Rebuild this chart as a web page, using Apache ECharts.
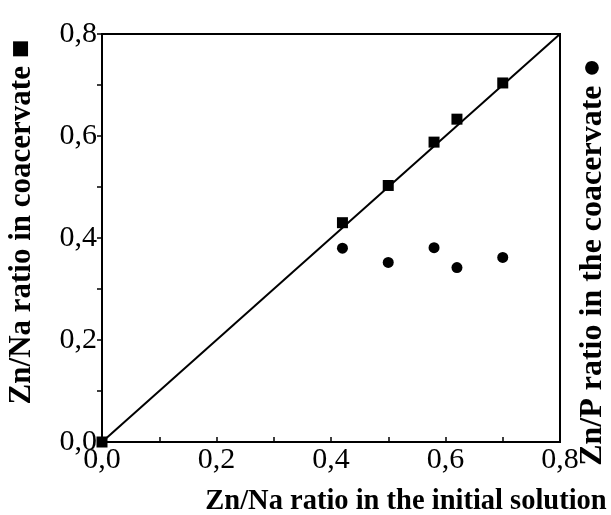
<!DOCTYPE html>
<html>
<head>
<meta charset="utf-8">
<script src="https://cdn.jsdelivr.net/npm/echarts@6/dist/echarts.min.js"></script>
<style>
  html, body { margin: 0; padding: 0; background: #fff; }
  #chart { width: 611px; height: 515px; }
</style>
</head>
<body>
<div id="chart"></div>
<script>
// Zn/Na ratio in the initial solution (x) for each experiment
const initialZnNa = [0.0, 0.42, 0.50, 0.58, 0.62, 0.70];
// Zn/Na ratio measured in the coacervate (squares, left axis)
const coacervateZnNa = [0.0, 0.43, 0.503, 0.588, 0.633, 0.704];
// Zn/P ratio measured in the coacervate (circles, right axis)
const circleX = [0.42, 0.50, 0.58, 0.62, 0.70];
const coacervateZnP = [0.38, 0.352, 0.381, 0.342, 0.362];
// y = x reference line end points
const diagonal = [0.0, 0.8];
const tickValues = [0.0, 0.2, 0.4, 0.6, 0.8];

const serif = '"Liberation Serif", "Times New Roman", serif';
const fmt = v => v.toFixed(1).replace('.', ',');

const chart = echarts.init(document.getElementById('chart'), null, { renderer: 'canvas' });

const axisCommon = {
  type: 'value',
  min: tickValues[0],
  max: tickValues[tickValues.length - 1],
  interval: 0.2,
  splitLine: { show: false },
  axisLine: { show: true, onZero: false, lineStyle: { color: '#000', width: 2 } },
  minorTick: { show: true, splitNumber: 2, length: 5, lineStyle: { color: '#000', width: 1.5 } },
  axisTick: { show: true, length: 5, lineStyle: { color: '#000', width: 1.5 } },
  axisLabel: {
    color: '#000', fontFamily: serif, fontSize: 30,
    formatter: fmt
  }
};

chart.setOption({
  backgroundColor: '#fff',
  animation: false,
  grid: {
    left: 102, right: 51, top: 34, bottom: 73,
    show: true, borderColor: '#000', borderWidth: 2
  },
  xAxis: Object.assign({}, axisCommon, {
    axisTick: Object.assign({}, axisCommon.axisTick, { inside: true }),
    minorTick: Object.assign({}, axisCommon.minorTick, { inside: true }),
    axisLabel: Object.assign({}, axisCommon.axisLabel, { margin: 3 })
  }),
  yAxis: [
    Object.assign({}, axisCommon, {
      axisLabel: Object.assign({}, axisCommon.axisLabel, { margin: 5 })
    }),
    Object.assign({}, axisCommon, {
      position: 'right',
      axisTick: { show: false },
      minorTick: { show: false },
      axisLabel: { show: false }
    })
  ],
  graphic: [
    {
      type: 'text', x: 22, y: 222, rotation: Math.PI / 2,
      style: {
        text: 'Zn/Na ratio in coacervate \u25A0',
        font: 'bold 31px ' + serif, fill: '#000',
        align: 'center', verticalAlign: 'middle'
      }
    },
    {
      type: 'text', x: 593, y: 262, rotation: Math.PI / 2,
      style: {
        text: 'Zn/P ratio in the coacervate \u25CF',
        font: 'bold 32px ' + serif, fill: '#000',
        align: 'center', verticalAlign: 'middle'
      }
    },
    {
      type: 'text', x: 406, y: 502,
      style: {
        text: 'Zn/Na ratio in the initial solution',
        font: 'bold 28.5px ' + serif, fill: '#000',
        align: 'center', verticalAlign: 'middle'
      }
    }
  ],
  series: [
    {
      type: 'line',
      data: diagonal.map(v => [v, v]),
      symbol: 'none',
      lineStyle: { color: '#000', width: 2 },
      z: 2
    },
    {
      type: 'scatter',
      data: initialZnNa.map((x, i) => [x, coacervateZnNa[i]]),
      symbol: 'rect',
      symbolSize: 11,
      itemStyle: { color: '#000', opacity: 1 },
      z: 3
    },
    {
      type: 'scatter',
      yAxisIndex: 1,
      data: circleX.map((x, i) => [x, coacervateZnP[i]]),
      symbol: 'circle',
      symbolSize: 11,
      itemStyle: { color: '#000', opacity: 1 },
      z: 3
    }
  ]
});
</script>
</body>
</html>
